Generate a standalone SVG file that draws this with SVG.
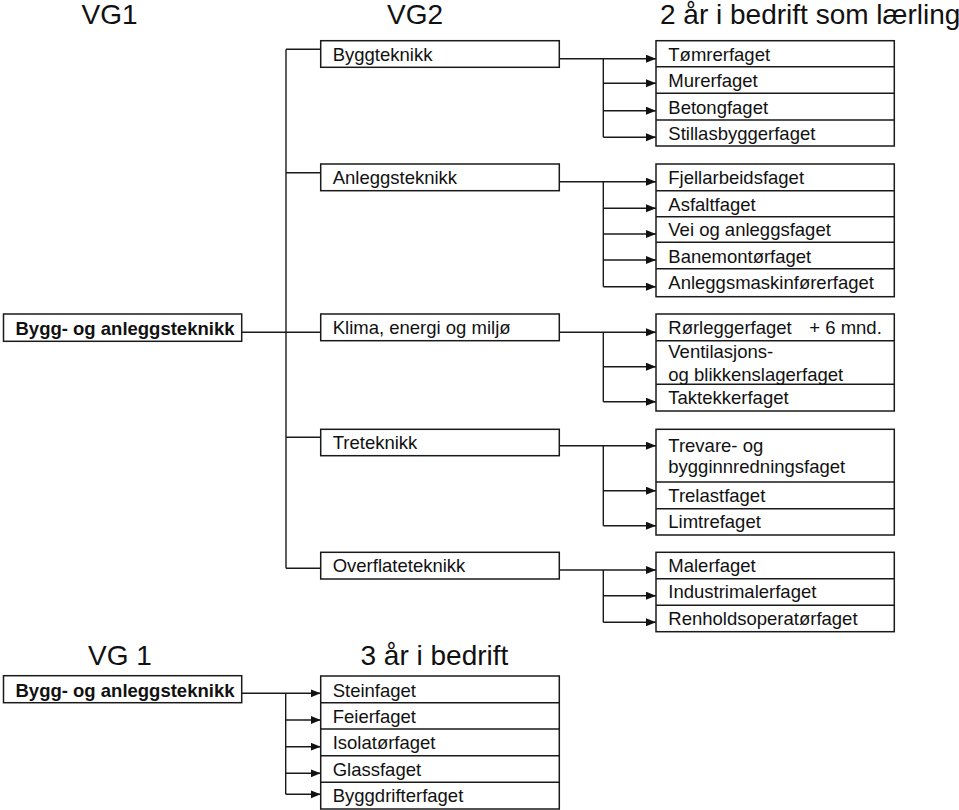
<svg xmlns="http://www.w3.org/2000/svg" width="959" height="810" viewBox="0 0 959 810">
<style>
.box{fill:#fff;stroke:#1a1a1a;stroke-width:1.5}
.div{stroke:#1a1a1a;stroke-width:1.5}
.t{font-family:"Liberation Sans",Arial,sans-serif;font-size:18.5px;fill:#111}
.b{font-family:"Liberation Sans",Arial,sans-serif;font-size:18.5px;font-weight:bold;fill:#111}
.h{font-family:"Liberation Sans",Arial,sans-serif;font-size:28px;fill:#111}
.ln{fill:none;stroke:#1a1a1a;stroke-width:1.4}
.ar{fill:none;stroke:#1a1a1a;stroke-width:1.4;marker-end:url(#arr)}
</style>
<defs>
<marker id="arr" markerUnits="userSpaceOnUse" markerWidth="11" markerHeight="9" refX="10" refY="4" orient="auto">
<path d="M0,0 L10,4 L0,8 z" fill="#111"/>
</marker>
</defs>
<rect width="959" height="810" fill="#fff"/>

<g id="headers">
<text class="h" x="81.5" y="24">VG1</text>
<text class="h" x="387" y="24">VG2</text>
<text class="h" x="660" y="24">2 år i bedrift som lærling</text>
<text class="h" x="120" y="665" text-anchor="middle">VG 1</text>
<text class="h" x="360.5" y="665">3 år i bedrift</text>
</g>

<g id="connectors">
<path class="ln" d="M241.7,332.3 H286"/>
<path class="ln" d="M286,49.3 V568.3"/>
<path class="ln" d="M286,49.3 H321 M286,172.7 H321 M286,332.3 H321 M286,437.3 H321 M286,568.3 H321"/>
<path class="ln" d="M603.3,58.7 V137.3"/>
<path class="ar" d="M559.3,58.7 H656"/>
<path class="ar" d="M603.3,83.3 H656"/>
<path class="ar" d="M603.3,110.7 H656"/>
<path class="ar" d="M603.3,137.3 H656"/>
<path class="ln" d="M603.3,181.7 V286.7"/>
<path class="ar" d="M559.3,181.7 H656"/>
<path class="ar" d="M603.3,208.3 H656"/>
<path class="ar" d="M603.3,234 H656"/>
<path class="ar" d="M603.3,260 H656"/>
<path class="ar" d="M603.3,286.7 H656"/>
<path class="ln" d="M603.3,332.3 V401.7"/>
<path class="ar" d="M559.3,332.3 H656"/>
<path class="ar" d="M603.3,366.7 H656"/>
<path class="ar" d="M603.3,401.7 H656"/>
<path class="ln" d="M603.3,445.7 V525.7"/>
<path class="ar" d="M559.3,445.7 H656"/>
<path class="ar" d="M603.3,490.7 H656"/>
<path class="ar" d="M603.3,525.7 H656"/>
<path class="ln" d="M603.3,570 V622.3"/>
<path class="ar" d="M559.3,570 H656"/>
<path class="ar" d="M603.3,595.7 H656"/>
<path class="ar" d="M603.3,622.3 H656"/>
<path class="ln" d="M285.7,693.3 V794.3"/>
<path class="ar" d="M241.7,693.3 H320.7"/>
<path class="ar" d="M285.7,720 H320.7"/>
<path class="ar" d="M285.7,746.7 H320.7"/>
<path class="ar" d="M285.7,773.3 H320.7"/>
<path class="ar" d="M285.7,794.3 H320.7"/>
</g>

<g id="vg1-main">
<rect class="box" x="3.5" y="314" width="238.2" height="27.3"/>
<text class="b" x="15.5" y="335">Bygg- og anleggsteknikk</text>
</g>

<g id="vg2-byggteknikk">
<rect class="box" x="320.7" y="40.7" width="238.6" height="26.6"/>
<text class="t" x="332.7" y="60.7">Byggteknikk</text>
</g>
<g id="vg2-anleggsteknikk">
<rect class="box" x="320.7" y="164" width="238.6" height="26.7"/>
<text class="t" x="332.7" y="184">Anleggsteknikk</text>
</g>
<g id="vg2-klima">
<rect class="box" x="320.7" y="314" width="238.6" height="26.7"/>
<text class="t" x="332.7" y="334">Klima, energi og miljø</text>
</g>
<g id="vg2-treteknikk">
<rect class="box" x="320.7" y="429.3" width="238.6" height="26.4"/>
<text class="t" x="332.7" y="449">Treteknikk</text>
</g>
<g id="vg2-overflateteknikk">
<rect class="box" x="320.7" y="552.3" width="238.6" height="26.7"/>
<text class="t" x="332.7" y="572.3">Overflateteknikk</text>
</g>

<g id="trades-bygg">
<rect class="box" x="656" y="40.7" width="238.3" height="105.3"/>
<path class="div" d="M656,66.7 H894.3 M656,93.3 H894.3 M656,120 H894.3"/>
<text class="t" x="668.3" y="60.7">Tømrerfaget</text>
<text class="t" x="668.3" y="87.3">Murerfaget</text>
<text class="t" x="668.3" y="113.7">Betongfaget</text>
<text class="t" x="668.3" y="140.3">Stillasbyggerfaget</text>
</g>

<g id="trades-anlegg">
<rect class="box" x="656" y="164" width="238.3" height="132.7"/>
<path class="div" d="M656,190.7 H894.3 M656,216.7 H894.3 M656,242.3 H894.3 M656,268.7 H894.3"/>
<text class="t" x="668.3" y="184">Fjellarbeidsfaget</text>
<text class="t" x="668.3" y="210.7">Asfaltfaget</text>
<text class="t" x="668.3" y="236.3">Vei og anleggsfaget</text>
<text class="t" x="668.3" y="262.7">Banemontørfaget</text>
<text class="t" x="668.3" y="289.3">Anleggsmaskinførerfaget</text>
</g>

<g id="trades-klima">
<rect class="box" x="656" y="314" width="238.3" height="97"/>
<path class="div" d="M656,340.7 H894.3 M656,384.3 H894.3"/>
<text class="t" x="668.3" y="334.3">Rørleggerfaget</text>
<text class="t" x="809.3" y="334.3">+ 6 mnd.</text>
<text class="t" x="668.3" y="358.3">Ventilasjons-</text>
<text class="t" x="668.3" y="381">og blikkenslagerfaget</text>
<text class="t" x="668.3" y="404.3">Taktekkerfaget</text>
</g>

<g id="trades-tre">
<rect class="box" x="656" y="429.3" width="238.3" height="105.7"/>
<path class="div" d="M656,482 H894.3 M656,508.7 H894.3"/>
<text class="t" x="668.3" y="451.7">Trevare- og</text>
<text class="t" x="668.3" y="473.3">bygginnredningsfaget</text>
<text class="t" x="668.3" y="501.7">Trelastfaget</text>
<text class="t" x="668.3" y="528.3">Limtrefaget</text>
</g>

<g id="trades-overflate">
<rect class="box" x="656" y="552.3" width="238.3" height="79.4"/>
<path class="div" d="M656,578.7 H894.3 M656,605.3 H894.3"/>
<text class="t" x="668.3" y="571.7">Malerfaget</text>
<text class="t" x="668.3" y="598.3">Industrimalerfaget</text>
<text class="t" x="668.3" y="625">Renholdsoperatørfaget</text>
</g>

<g id="vg1-bottom">
<rect class="box" x="3.5" y="675.7" width="238.2" height="27"/>
<text class="b" x="15.5" y="696.7">Bygg- og anleggsteknikk</text>
</g>

<g id="trades-3ar">
<rect class="box" x="320.7" y="676" width="238.6" height="133"/>
<path class="div" d="M320.7,702.7 H559.3 M320.7,729 H559.3 M320.7,755.7 H559.3 M320.7,782.3 H559.3"/>
<text class="t" x="332.7" y="696.7">Steinfaget</text>
<text class="t" x="332.7" y="723.3">Feierfaget</text>
<text class="t" x="332.7" y="749">Isolatørfaget</text>
<text class="t" x="332.7" y="775.7">Glassfaget</text>
<text class="t" x="332.7" y="802.3">Byggdrifterfaget</text>
</g>
</svg>
